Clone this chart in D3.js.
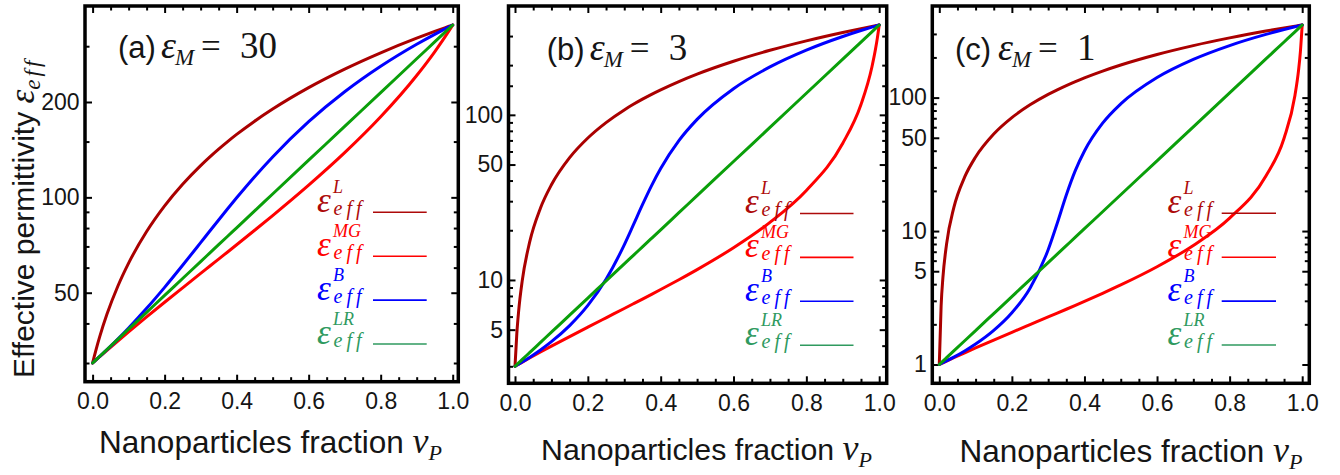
<!DOCTYPE html>
<html>
<head>
<meta charset="utf-8">
<script src="https://cdn.jsdelivr.net/npm/d3@7"></script>
<style>
  html, body { margin: 0; padding: 0; background: #fff; }
  svg { display: block; }
</style>
</head>
<body>
<svg id="chart" width="1340" height="475"></svg>
<script>
// Nanoparticle volume fraction sampled along each curve
const vP = [0, 0.005, 0.01, 0.02, 0.04, 0.07, 0.1, 0.15, 0.2, 0.25, 0.3, 0.325, 0.35, 0.375,
            0.4, 0.45, 0.5, 0.6, 0.7, 0.8, 0.9, 0.95, 0.98, 0.99, 0.995, 1];

// Panel (a): host permittivity 30
const epsL_a  = [30, 31.6, 33.2, 36.4, 42.8, 52.4, 62, 78, 94, 110, 126, 134, 142, 150, 158, 174, 190, 222, 254, 286, 318, 334, 343.6, 346.8, 348.4, 350];
const epsMG_a = [30, 30.35, 30.71, 31.43, 32.90, 35.20, 37.62, 41.93, 46.65, 51.82, 57.52, 60.59, 63.83, 67.24, 70.85, 78.72, 87.6, 109.27, 138.39, 179.61, 242.46, 288.11, 322.78, 335.92, 342.84, 350];
const epsB_a  = [30, 30.36, 30.72, 31.46, 33.05, 35.69, 38.69, 44.63, 51.99, 61.03, 71.96, 78.17, 84.86, 92.04, 99.67, 116.19, 134.14, 173.30, 215.38, 259.25, 304.26, 327.05, 340.80, 345.40, 347.70, 350];
const epsLR_a = [30, 30.37, 30.75, 31.51, 33.10, 35.63, 38.35, 43.37, 49.03, 55.45, 62.69, 66.66, 70.88, 75.37, 80.15, 90.63, 102.47, 131.0, 167.5, 214.1, 273.8, 309.5, 333.2, 341.5, 345.7, 350];

// Panel (b): host permittivity 3
const epsL_b  = [3, 4.735, 6.47, 9.94, 16.88, 27.29, 37.7, 55.05, 72.4, 89.75, 107.1, 115.78, 124.45, 133.13, 141.8, 159.15, 176.5, 211.2, 245.9, 280.6, 315.3, 332.65, 343.06, 346.53, 348.27, 350];
const epsMG_b = [3, 3.044, 3.089, 3.179, 3.365, 3.659, 3.972, 4.541, 5.179, 5.900, 6.719, 7.173, 7.660, 8.185, 8.751, 10.032, 11.556, 15.678, 22.329, 34.867, 67.318, 115.59, 195.00, 250.94, 292.46, 350];
const epsB_b  = [3, 3.044, 3.090, 3.186, 3.396, 3.768, 4.228, 5.291, 7.009, 10.101, 16.320, 21.538, 28.558, 37.273, 47.299, 69.752, 93.844, 143.95, 195.04, 246.53, 298.21, 324.09, 339.64, 344.82, 347.41, 350];
const epsLR_b = [3, 3.072, 3.146, 3.300, 3.629, 4.186, 4.828, 6.126, 7.771, 9.860, 12.508, 14.089, 15.869, 17.874, 20.132, 25.542, 32.404, 52.16, 83.94, 135.11, 217.45, 275.88, 318.24, 333.74, 341.77, 350];

// Panel (c): host permittivity 1
const epsL_c  = [1, 2.745, 4.49, 7.98, 14.96, 25.43, 35.9, 53.35, 70.8, 88.25, 105.7, 114.43, 123.15, 131.88, 140.6, 158.05, 175.5, 210.4, 245.3, 280.2, 315.1, 332.55, 343.02, 346.51, 348.26, 350];
const epsMG_c = [1, 1.0149, 1.0300, 1.0607, 1.1239, 1.2237, 1.3302, 1.5241, 1.7420, 1.9887, 2.2701, 2.4263, 2.5943, 2.7756, 2.9718, 3.4168, 3.9493, 5.4053, 7.8050, 12.505, 25.863, 49.638, 103.81, 160.71, 220.55, 350];
const epsB_c  = [1, 1.0151, 1.0307, 1.0632, 1.1349, 1.2625, 1.4219, 1.7991, 2.4394, 3.7346, 7.2357, 11.438, 18.622, 28.461, 39.797, 64.297, 89.701, 141.34, 193.36, 245.51, 297.74, 323.87, 339.55, 344.77, 347.39, 350];
const epsLR_c = [1, 1.0297, 1.0603, 1.1243, 1.2640, 1.5069, 1.7965, 2.4078, 3.2274, 4.3253, 5.7974, 6.7115, 7.7701, 8.9953, 10.414, 13.958, 18.708, 33.609, 60.372, 108.46, 194.83, 261.13, 311.3, 330.1, 339.90, 350];

// Tick values
const xMajor = [0, 0.2, 0.4, 0.6, 0.8, 1.0];
const xMinor = [0.05, 0.1, 0.15, 0.25, 0.3, 0.35, 0.45, 0.5, 0.55, 0.65, 0.7, 0.75, 0.85, 0.9, 0.95];
const yMajorA = [50, 100, 200];
const yMinorA = [30, 40, 60, 70, 80, 90, 150, 300];
const yMajorB = [5, 10, 50, 100];
const yMinorB = [3, 4, 6, 7, 8, 9, 20, 30, 40, 60, 70, 80, 90, 150, 200, 300];
const yMajorC = [1, 5, 10, 50, 100];
const yMinorC = [2, 3, 4, 6, 7, 8, 9, 20, 30, 40, 60, 70, 80, 90, 200, 300];

const epsP = 350;

const series = [
  { key: 'L',  sup: 'L',  stroke: '#aa0000', legend: '#ad0a0a' },
  { key: 'MG', sup: 'MG', stroke: '#ff0000', legend: '#ff0000' },
  { key: 'B',  sup: 'B',  stroke: '#0000ff', legend: '#0000ff' },
  { key: 'LR', sup: 'LR', stroke: '#0a9f0a', legend: '#2f9a5f' }
];

const panels = [
  { tag: '(a)', epsM: 30, num: '30', data: { L: epsL_a, MG: epsMG_a, B: epsB_a, LR: epsLR_a },
    major: yMajorA, minor: yMinorA,
    box: [85, 6, 458.3, 381.7], xPix: [92.6, 452.7], yPix: [363, 25],
    titleX: 118, titleY: 58, legX: 317, legLine: [373, 426.7], legY: 212.3,
    xTitleX: 270.5, xTitleY: 453, xTitleSize: 31.5 },
  { tag: '(b)', epsM: 3, num: '3', data: { L: epsL_b, MG: epsMG_b, B: epsB_b, LR: epsLR_b },
    major: yMajorB, minor: yMinorB,
    box: [508.5, 6, 886.7, 383.3], xPix: [515, 879.2], yPix: [366.3, 25],
    titleX: 546.7, titleY: 59.5, legX: 745, legLine: [800, 853.5], legY: 213.5,
    xTitleX: 706.5, xTitleY: 460, xTitleSize: 30.3 },
  { tag: '(c)', epsM: 1, num: '1', data: { L: epsL_c, MG: epsMG_c, B: epsB_c, LR: epsLR_c },
    major: yMajorC, minor: yMinorC,
    box: [932.3, 6, 1309.3, 383.3], xPix: [939.3, 1302.2], yPix: [364.5, 25],
    titleX: 955, titleY: 59.5, legX: 1167.5, legLine: [1221.7, 1276], legY: 213.3,
    xTitleX: 1131, xTitleY: 461.7, xTitleSize: 31.5 }
];

const SANS = '"Liberation Sans", Arial, sans-serif';
const SERIF = '"Liberation Serif", "Times New Roman", serif';
const INK = '#151515';

const svg = d3.select('#chart');

function styleAxis(g) {
  g.select('.domain').remove();
  g.attr('font-family', SANS).attr('font-size', 23).attr('color', INK);
  g.selectAll('.tick line').attr('stroke', '#000').attr('stroke-width', 2);
}

panels.forEach(p => {
  const [l, t, r, b] = p.box;
  const x = d3.scaleLinear().domain([0, 1]).range(p.xPix);
  const y = d3.scaleLog().domain([p.epsM, epsP]).range(p.yPix);
  const g = svg.append('g');

  // ticks on all four sides, pointing inward
  g.append('g').attr('transform', `translate(0,${b})`)
    .call(d3.axisBottom(x).tickValues(xMajor).tickSizeInner(-7).tickSizeOuter(0).tickPadding(11).tickFormat(d3.format('.1f')))
    .call(styleAxis);
  g.append('g').attr('transform', `translate(0,${b})`)
    .call(d3.axisBottom(x).tickValues(xMinor).tickSizeInner(-4.5).tickSizeOuter(0).tickFormat(''))
    .call(styleAxis);
  g.append('g').attr('transform', `translate(0,${t})`)
    .call(d3.axisTop(x).tickValues(xMajor).tickSizeInner(-7).tickSizeOuter(0).tickFormat(''))
    .call(styleAxis);
  g.append('g').attr('transform', `translate(0,${t})`)
    .call(d3.axisTop(x).tickValues(xMinor).tickSizeInner(-4.5).tickSizeOuter(0).tickFormat(''))
    .call(styleAxis);
  g.append('g').attr('transform', `translate(${l},0)`)
    .call(d3.axisLeft(y).tickValues(p.major).tickSizeInner(-7).tickSizeOuter(0).tickPadding(5.5).tickFormat(d3.format('d')))
    .call(styleAxis);
  g.append('g').attr('transform', `translate(${l},0)`)
    .call(d3.axisLeft(y).tickValues(p.minor).tickSizeInner(-4.5).tickSizeOuter(0).tickFormat(''))
    .call(styleAxis);
  g.append('g').attr('transform', `translate(${r},0)`)
    .call(d3.axisRight(y).tickValues(p.major).tickSizeInner(-7).tickSizeOuter(0).tickFormat(''))
    .call(styleAxis);
  g.append('g').attr('transform', `translate(${r},0)`)
    .call(d3.axisRight(y).tickValues(p.minor).tickSizeInner(-4.5).tickSizeOuter(0).tickFormat(''))
    .call(styleAxis);

  // curves
  series.forEach(s => {
    const pts = vP.map((v, i) => ({ v, e: p.data[s.key][i] }));
    const line = d3.line().x(d => x(d.v)).y(d => y(d.e)).curve(d3.curveMonotoneX);
    g.append('path').datum(pts)
      .attr('d', line)
      .attr('fill', 'none')
      .attr('stroke', s.stroke)
      .attr('stroke-width', 3)
      .attr('stroke-linejoin', 'round')
      .attr('stroke-linecap', 'round');
  });

  // frame
  g.append('rect').attr('x', l).attr('y', t).attr('width', r - l).attr('height', b - t)
    .attr('fill', 'none').attr('stroke', '#000').attr('stroke-width', 3.5);

  // panel title
  const tt = g.append('text').attr('y', p.titleY).attr('fill', INK);
  tt.append('tspan').attr('x', p.titleX).attr('font-family', SANS).attr('font-size', 31).text(p.tag);
  tt.append('tspan').attr('x', p.titleX + 43).attr('font-family', SERIF).attr('font-style', 'italic').attr('font-size', 38).text('ε');
  tt.append('tspan').attr('x', p.titleX + 57).attr('dy', 7).attr('font-family', SERIF).attr('font-style', 'italic').attr('font-size', 23).text('M');
  tt.append('tspan').attr('x', p.titleX + 83).attr('dy', -7).attr('font-family', SERIF).attr('font-size', 35).text('=');
  tt.append('tspan').attr('x', p.titleX + 122).attr('font-family', SERIF).attr('font-size', 37).text(p.num);

  // legend: one text per entry (symbol, superscript, subscript) plus a short sample line
  series.forEach((s, i) => {
    const yy = p.legY + i * 43.9;
    const lt = g.append('text').attr('fill', s.legend)
      .attr('font-family', SERIF).attr('font-style', 'italic');
    lt.append('tspan').attr('x', p.legX).attr('y', yy - 0.5).attr('font-size', 35).text('ε');
    lt.append('tspan').attr('x', p.legX + 16).attr('y', yy - 19.5).attr('font-size', 18).text(s.sup);
    lt.append('tspan').attr('x', p.legX + 16.5).attr('y', yy + 2.5).attr('font-size', 20)
      .attr('letter-spacing', 4).text('eff');
    g.append('line').attr('x1', p.legLine[0]).attr('x2', p.legLine[1]).attr('y1', yy).attr('y2', yy)
      .attr('stroke', s.legend).attr('stroke-width', 1.6);
  });

  // x-axis title
  const xt = g.append('text').attr('x', p.xTitleX).attr('y', p.xTitleY)
    .attr('text-anchor', 'middle').attr('fill', INK);
  xt.append('tspan').attr('font-family', SANS).attr('font-size', p.xTitleSize).text('Nanoparticles fraction ');
  xt.append('tspan').attr('font-family', SERIF).attr('font-style', 'italic').attr('font-size', 36).text('v');
  xt.append('tspan').attr('dy', 7).attr('font-family', SERIF).attr('font-style', 'italic').attr('font-size', 22).text('P');
});

// shared y-axis title
const yt = svg.append('text').attr('transform', 'translate(33.5,378) rotate(-90)').attr('fill', INK);
yt.append('tspan').attr('font-family', SANS).attr('font-size', 30).text('Effective permittivity ');
yt.append('tspan').attr('font-family', SERIF).attr('font-style', 'italic').attr('font-size', 35).text('ε');
yt.append('tspan').attr('dy', 6).attr('font-family', SERIF).attr('font-style', 'italic').attr('font-size', 23)
  .attr('letter-spacing', 3).text('eff');
</script>
</body>
</html>
